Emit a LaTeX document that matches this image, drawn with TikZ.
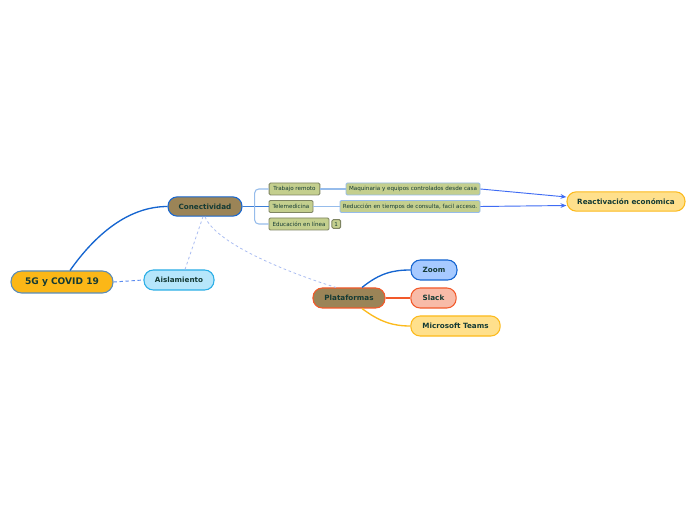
\documentclass[tikz,border=0pt]{standalone}
\usepackage{fontspec}
\setmainfont{DejaVu Sans}
\usetikzlibrary{arrows.meta,positioning,calc}

\definecolor{inkc}{HTML}{143A34}
\definecolor{rootfill}{HTML}{FBB717}
\definecolor{rootline}{HTML}{5A8CB8}
\definecolor{brownfill}{HTML}{9B8457}
\definecolor{bluedark}{HTML}{1565D0}
\definecolor{redline}{HTML}{F2592A}
\definecolor{oliv}{HTML}{C4CF8E}
\definecolor{olivline}{HTML}{7E8462}
\definecolor{paleline}{HTML}{96BCEB}
\definecolor{cyanfill}{HTML}{B6E6FB}
\definecolor{cyanline}{HTML}{2BAEE6}
\definecolor{zoomfill}{HTML}{A7CAFF}
\definecolor{slackfill}{HTML}{F8BBA8}
\definecolor{yelfill}{HTML}{FFE08C}
\definecolor{yelline}{HTML}{FCBA1C}
\definecolor{dashc}{HTML}{5C8CF0}
\definecolor{lightdash}{HTML}{A9BCF2}
\definecolor{arrowc}{HTML}{3F6CF4}

\tikzset{
  topic/.style={draw, rounded corners=7pt, line width=0.8pt, text=inkc,
    font=\bfseries\fontsize{5.4}{6}\selectfont, inner sep=0pt, minimum height=15pt},
  leaf/.style={draw=olivline, fill=oliv, rounded corners=1pt, line width=0.7pt,
    text=inkc, font=\fontsize{4.2}{5}\selectfont, inner sep=0pt, minimum height=9pt},
  bracket/.style={draw=paleline, line width=0.8pt},
  dashlink/.style={draw=lightdash, dashed, line width=0.6pt, dash pattern=on 2pt off 2pt},
}

\begin{document}
\begin{tikzpicture}[>=Stealth, x=0.75pt, y=-0.75pt]
  \useasboundingbox[fill=white] (0,0) rectangle (696,520);

  \node[topic, fill=rootfill, draw=rootline, minimum width=76.5pt, minimum height=16.5pt,
        rounded corners=8pt, font=\bfseries\fontsize{6.8}{8}\selectfont] (root) at (62,282) {5G y COVID 19};
  \node[topic, fill=cyanfill, draw=cyanline, minimum width=52.5pt] (aisl) at (179,280) {Aislamiento};
  \node[topic, fill=brownfill, draw=bluedark, minimum width=55.5pt, minimum height=14.5pt] (con) at (205,206.5) {Conectividad};
  \node[topic, fill=brownfill, draw=redline, minimum width=54pt] (plat) at (349,298) {Plataformas};
  \node[topic, fill=zoomfill, draw=bluedark, minimum width=34.5pt] (zoom) at (434,270) {Zoom};
  \node[topic, fill=slackfill, draw=redline, minimum width=34pt] (slack) at (433.5,298) {Slack};
  \node[topic, fill=yelfill, draw=yelline, minimum width=67pt] (teams) at (455.5,326) {Microsoft Teams};
  \node[topic, fill=yelfill, draw=yelline, minimum width=88.5pt, minimum height=14.5pt] (react) at (626,201.5) {Reactivación económica};

  \node[leaf, minimum width=38pt] (trab) at (294.5,189) {Trabajo remoto};
  \node[leaf, minimum width=33pt] (tele) at (291,206.5) {Telemedicina};
  \node[leaf, minimum width=45pt] (edu) at (299,224) {Educación en línea};
  \node[leaf, minimum width=6.5pt, minimum height=6.5pt, right=1.5pt of edu] (badge) {1};
  \node[leaf, draw=paleline, minimum width=100.5pt] (maq) at (413,189) {Maquinaria y equipos controlados desde casa};
  \node[leaf, draw=paleline, minimum width=105pt] (redu) at (410,206.5) {Reducción en tiempos de consulta, facil acceso.};

  \draw[bluedark, line width=1pt] ($(root.north)+(8,0)$) .. controls (95,235) and (128,206.5) .. (con.west);
  \draw[dashc, dashed, line width=0.7pt, dash pattern=on 2.5pt off 2pt] (root.east) -- (aisl.west);
  \draw[dashlink] ($(aisl.north)+(6,0)$) -- ($(con.south)+(-2,0)$);
  \draw[dashlink] (con.south) .. controls (215,242) and (280,270) .. ($(plat.north)+(-13,0)$);

  \draw[bracket, draw=bluedark!70!paleline] (con.east) -- (tele.west);
  \draw[bracket, rounded corners=3pt] (trab.west) -- ++(-14,0) |- (edu.west);
  \draw[bracket] (trab.east) -- (maq.west);
  \draw[bracket] (tele.east) -- (redu.west);

  \draw[->, arrowc, line width=0.7pt, >={Stealth[length=4.5pt,width=3.5pt]}] (maq.east) -- ($(react.west)+(0,-4.5)$);
  \draw[->, arrowc, line width=0.7pt, >={Stealth[length=4.5pt,width=3.5pt]}] (redu.east) -- ($(react.west)+(0,4)$);

  \draw[bluedark, line width=1pt] ($(plat.north)+(13,0)$) .. controls (380,273) and (393,270) .. (zoom.west);
  \draw[redline, line width=1pt] (plat.east) -- (slack.west);
  \draw[yelline, line width=1pt] ($(plat.south)+(13,0)$) .. controls (380,322) and (393,326) .. (teams.west);
\end{tikzpicture}
\end{document}
